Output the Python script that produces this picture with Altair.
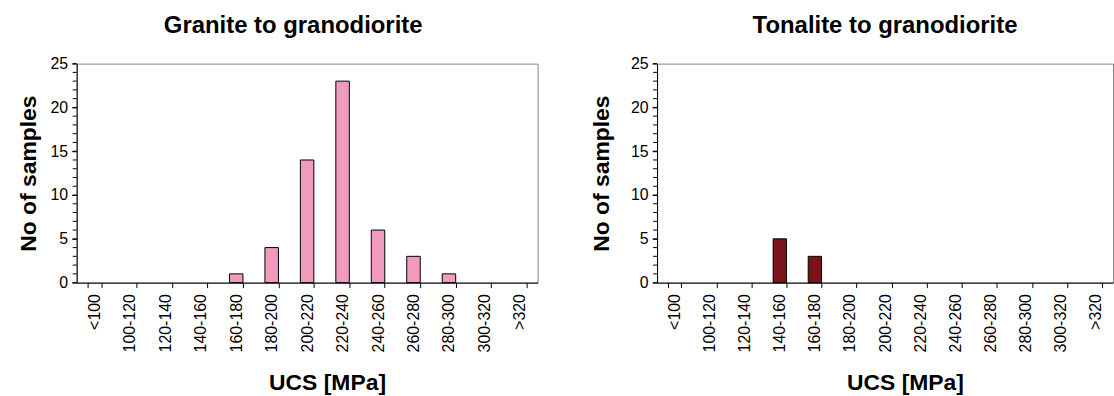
import altair as alt
import pandas as pd

categories = ["<100", "100-120", "120-140", "140-160", "160-180", "180-200",
              "200-220", "220-240", "240-260", "260-280", "280-300", "300-320", ">320"]
granite_counts = [0, 0, 0, 0, 1, 4, 14, 23, 6, 3, 1, 0, 0]
tonalite_counts = [0, 0, 0, 5, 3, 0, 0, 0, 0, 0, 0, 0, 0]
titles = ["Granite to granodiorite", "Tonalite to granodiorite"]
colors = ["#F09BBE", "#7B1419"]
major_ticks = [0, 5, 10, 15, 20, 25]
minor_ticks = list(range(0, 26))

FONT = "Liberation Sans"


def panel(counts, title, color, width, title_dx, ytitle_pad):
    df = pd.DataFrame({"cat": categories, "n": counts})
    yscale = alt.Scale(domain=[0, 25], nice=False)
    xenc = alt.X("cat:N", sort=categories, title="UCS [MPa]",
                 scale=alt.Scale(domain=categories, paddingInner=0.62, paddingOuter=0.31),
                 axis=alt.Axis(labelAngle=-90, labelAlign="right", labelBaseline="middle",
                               tickBand="extent", tickSize=5, tickColor="black",
                               domainColor="black", labelFontSize=16, labelFont=FONT,
                               labelColor="black", labelPadding=6,
                               titleFontSize=23, titleFont=FONT, titleFontWeight="bold",
                               titleColor="black", titlePadding=20,
                               titleX=width / 2 + 20))
    bars = alt.Chart(df).transform_filter("datum.n > 0").mark_bar(
        color=color, stroke="black", strokeWidth=1).encode(
        x=xenc,
        y=alt.Y("n:Q", scale=yscale, title="No of samples",
                axis=alt.Axis(values=major_ticks, tickSize=5, tickColor="black",
                              domainColor="black", labelFontSize=16, labelFont=FONT,
                              labelColor="black", labelPadding=4,
                              titleFontSize=23, titleFont=FONT, titleFontWeight="bold",
                              titleColor="black", titlePadding=ytitle_pad, grid=False))
    )
    mdf = pd.DataFrame({"v": minor_ticks})
    minor = alt.Chart(mdf).mark_rule(color="black", strokeWidth=1).encode(
        y=alt.Y("v:Q", scale=yscale),
        x=alt.value(-4), x2=alt.value(0)
    )
    return alt.layer(bars, minor).properties(
        width=width, height=220,
        title=alt.TitleParams(title, fontSize=24, font=FONT, fontWeight="bold",
                              color="black", offset=18, dx=title_dx)
    )


left = panel(granite_counts, titles[0], colors[0], 463, -14, 10)
right = panel(tonalite_counts, titles[1], colors[1], 458, 0, 17)

chart = alt.hconcat(left, right, spacing=51).configure_view(
    stroke="#808080", strokeWidth=1
).configure_axis(grid=False).properties(
    padding={"left": 16, "top": 12, "right": 0, "bottom": 0},
    background="white"
)

chart.save("out.html", embed_options={"renderer": "svg", "actions": False})
